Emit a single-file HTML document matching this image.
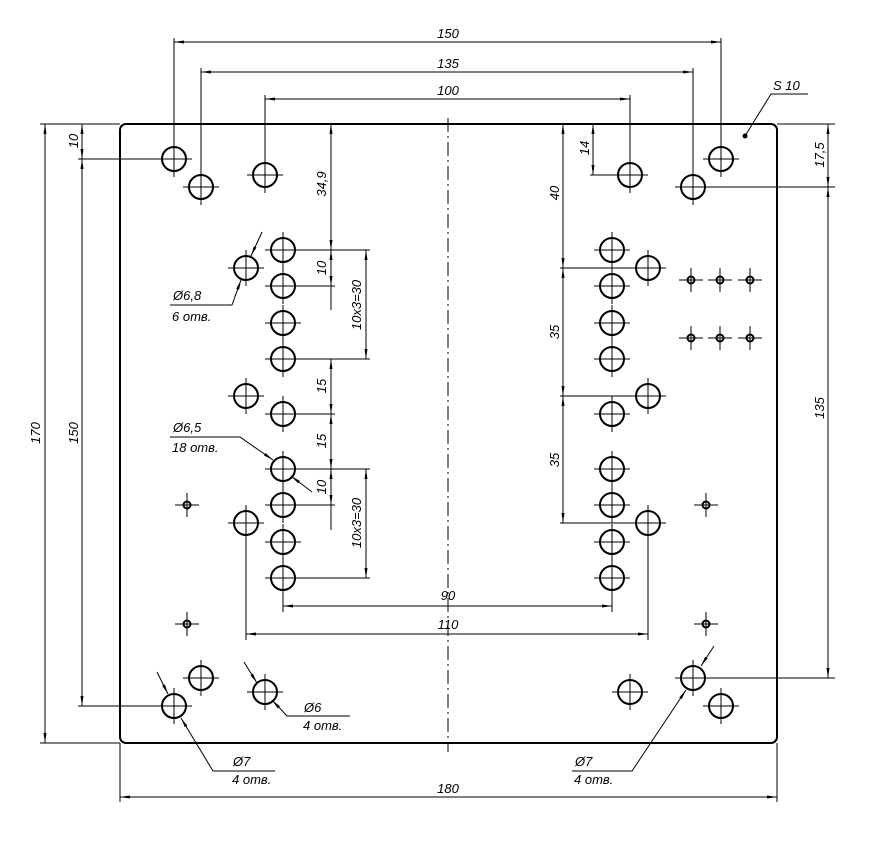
<!DOCTYPE html>
<html><head><meta charset="utf-8"><style>html,body{margin:0;padding:0;background:#fff}svg{display:block}text{font-family:"Liberation Sans",sans-serif;font-style:italic;font-size:13px;fill:#000}</style></head><body>
<svg width="893" height="841" viewBox="0 0 893 841" xmlns="http://www.w3.org/2000/svg">
<defs>
<marker id="a" viewBox="0 0 10 4" refX="10" refY="2" markerWidth="10" markerHeight="4" markerUnits="userSpaceOnUse" orient="auto-start-reverse"><path d="M0,0.5 L10,2 L0,3.5z" fill="#000"/></marker>
<g id="h"><circle r="12" fill="none" stroke="#000" stroke-width="2"/><path d="M-18,0H18M0,-18V18" stroke="#000" stroke-width="1"/></g>
<g id="s"><circle r="3.5" fill="none" stroke="#000" stroke-width="2"/><path d="M-12,0H12M0,-12V12" stroke="#000" stroke-width="1"/></g>
</defs>
<rect x="120" y="124" width="657" height="619" rx="6" fill="none" stroke="#000" stroke-width="2"/>
<line x1="448" y1="118" x2="448" y2="752" stroke="#000" stroke-width="1" stroke-dasharray="14,4,2,4"/>
<!-- holes -->
<use href="#h" x="174" y="159"/><use href="#h" x="201" y="187"/><use href="#h" x="265" y="175"/>
<use href="#h" x="630" y="175"/><use href="#h" x="693" y="187"/><use href="#h" x="721" y="159"/>
<use href="#h" x="174" y="706"/><use href="#h" x="201" y="678"/><use href="#h" x="265" y="692"/>
<use href="#h" x="630" y="692"/><use href="#h" x="693" y="678"/><use href="#h" x="721" y="706"/>
<use href="#h" x="283" y="250"/><use href="#h" x="283" y="286"/><use href="#h" x="283" y="323"/><use href="#h" x="283" y="359"/>
<use href="#h" x="283" y="414"/><use href="#h" x="283" y="469"/><use href="#h" x="283" y="505"/><use href="#h" x="283" y="542"/><use href="#h" x="283" y="578"/>
<use href="#h" x="612" y="250"/><use href="#h" x="612" y="286"/><use href="#h" x="612" y="323"/><use href="#h" x="612" y="359"/>
<use href="#h" x="612" y="414"/><use href="#h" x="612" y="469"/><use href="#h" x="612" y="505"/><use href="#h" x="612" y="542"/><use href="#h" x="612" y="578"/>
<use href="#h" x="246" y="268"/><use href="#h" x="246" y="396"/><use href="#h" x="246" y="523"/>
<use href="#h" x="648" y="268"/><use href="#h" x="648" y="396"/><use href="#h" x="648" y="523"/>
<use href="#s" x="187" y="505"/><use href="#s" x="187" y="624"/><use href="#s" x="706" y="505"/><use href="#s" x="706" y="624"/>
<use href="#s" x="691" y="280"/><use href="#s" x="720" y="280"/><use href="#s" x="750" y="280"/>
<use href="#s" x="691" y="338"/><use href="#s" x="720" y="338"/><use href="#s" x="750" y="338"/>
<circle cx="745" cy="136" r="2.5" fill="#000"/>
<!-- extension lines -->
<g stroke="#000" stroke-width="1" fill="none">
<path d="M174,38V172M201,68V200M265,95V188M630,95V188M693,68V200M721,38V172"/>
<path d="M40,124H120M40,743H120M78,159H174M78,706H174"/>
<path d="M777,124H835M693,187H835M693,678H835"/>
<path d="M590,175H630M560,268H648M560,396H648M560,523H648"/>
<path d="M283,250H370M283,286H335M283,359H370M283,414H335M283,469H370M283,505H335M283,578H370"/>
<path d="M283,578V612M612,578V612M246,523V640M648,523V640M120,743V802M777,743V802"/>
</g>
<!-- dimension lines -->
<g stroke="#000" stroke-width="1" marker-start="url(#a)" marker-end="url(#a)">
<line x1="174" y1="42" x2="721" y2="42"/>
<line x1="201" y1="72" x2="693" y2="72"/>
<line x1="265" y1="99" x2="630" y2="99"/>
<line x1="45" y1="124" x2="45" y2="743"/>
<line x1="82" y1="124" x2="82" y2="159"/>
<line x1="82" y1="159" x2="82" y2="706"/>
<line x1="828" y1="124" x2="828" y2="187"/>
<line x1="828" y1="187" x2="828" y2="678"/>
<line x1="593" y1="124" x2="593" y2="175"/>
<line x1="563" y1="124" x2="563" y2="268"/>
<line x1="563" y1="268" x2="563" y2="396"/>
<line x1="563" y1="396" x2="563" y2="523"/>
<line x1="331" y1="124" x2="331" y2="250"/>
<line x1="331" y1="250" x2="331" y2="286"/>
<line x1="366" y1="250" x2="366" y2="359"/>
<line x1="331" y1="359" x2="331" y2="414"/>
<line x1="331" y1="414" x2="331" y2="469"/>
<line x1="331" y1="469" x2="331" y2="505"/>
<line x1="366" y1="469" x2="366" y2="578"/>
<line x1="283" y1="606" x2="612" y2="606"/>
<line x1="246" y1="634" x2="648" y2="634"/>
<line x1="120" y1="797" x2="777" y2="797"/>
</g>
<g stroke="#000" stroke-width="1" fill="none"><path d="M331,286V310M331,505V530"/></g>
<!-- leaders -->
<g stroke="#000" stroke-width="1" fill="none">
<path d="M170,305H232L241,280" marker-end="url(#a)"/>
<path d="M262,232L251,256" marker-end="url(#a)"/>
<path d="M170,437H240L273,460" marker-end="url(#a)"/>
<path d="M312,492L291,476" marker-end="url(#a)"/>
<path d="M244,662L257,683" marker-end="url(#a)"/>
<path d="M350,716H287L272,700" marker-end="url(#a)"/>
<path d="M157,672L168,694" marker-end="url(#a)"/>
<path d="M275,771H213L181,718" marker-end="url(#a)"/>
<path d="M714,646L701,666" marker-end="url(#a)"/>
<path d="M572,771H632L686,690" marker-end="url(#a)"/>
<path d="M745,136L771,94H808"/>
</g>
<!-- texts -->
<g text-anchor="middle">
<text x="448" y="38">150</text>
<text x="448" y="68">135</text>
<text x="448" y="95">100</text>
<text x="448" y="600">90</text>
<text x="448" y="629">110</text>
<text x="448" y="793">180</text>
<text transform="translate(40,433) rotate(-90)">170</text>
<text transform="translate(78,433) rotate(-90)">150</text>
<text transform="translate(78,141) rotate(-90)">10</text>
<text transform="translate(824,155) rotate(-90)">17,5</text>
<text transform="translate(824,408) rotate(-90)">135</text>
<text transform="translate(589,148) rotate(-90)">14</text>
<text transform="translate(559,193) rotate(-90)">40</text>
<text transform="translate(559,332) rotate(-90)">35</text>
<text transform="translate(559,460) rotate(-90)">35</text>
<text transform="translate(326,184) rotate(-90)">34,9</text>
<text transform="translate(326,268) rotate(-90)">10</text>
<text transform="translate(326,386) rotate(-90)">15</text>
<text transform="translate(326,441) rotate(-90)">15</text>
<text transform="translate(326,487) rotate(-90)">10</text>
<text transform="translate(361,305) rotate(-90)">10x3=30</text>
<text transform="translate(361,523) rotate(-90)">10x3=30</text>
</g>
<text x="173" y="300">Ø6,8</text><text x="172" y="321" font-size="12">6 отв.</text>
<text x="173" y="432">Ø6,5</text><text x="172" y="452" font-size="12">18 отв.</text>
<text x="304" y="712">Ø6</text><text x="303" y="730" font-size="12">4 отв.</text>
<text x="233" y="766">Ø7</text><text x="232" y="784" font-size="12">4 отв.</text>
<text x="575" y="766">Ø7</text><text x="574" y="784" font-size="12">4 отв.</text>
<text x="773" y="90">S 10</text>
</svg>
</body></html>
